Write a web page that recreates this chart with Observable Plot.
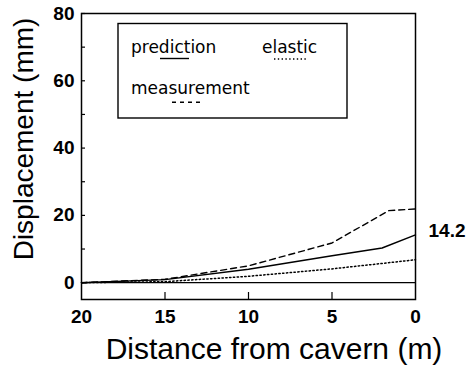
<!DOCTYPE html>
<html><head><meta charset="utf-8">
<script src="https://cdn.jsdelivr.net/npm/d3@7"></script>
<script src="https://cdn.jsdelivr.net/npm/@observablehq/plot@0.6"></script>
<style>body{margin:0;background:#fff}#chart{position:relative;width:474px;height:374px}</style>
</head><body><div id="chart"></div>
<script>
// Data
const predDistance = [20, 15, 10, 5, 2, 0];
const prediction   = [0, 0.9, 4.0, 8.0, 10.3, 14.2];
const measDistance = [20, 15, 10, 5, 1.6, 0];
const measurement  = [0, 1.0, 5.0, 11.8, 21.4, 21.9];
const elasDistance = [20, 15, 10, 5, 0];
const elastic      = [0, 0.3, 1.9, 4.1, 6.8];

const xTickLabels = [20, 15, 10, 5, 0];
const xTicks = [15, 10, 5];
const yTickLabels = [0, 20, 40, 60, 80];
const yTicks = [0, 10, 20, 30, 40, 50, 60, 70, 80];
const legendLabels = ["prediction", "elastic", "measurement"];
const endLabel = "14.2";
const xTitle = "Distance from cavern (m)";
const yTitle = "Displacement (mm)";

const predRows = predDistance.map((d, i) => ({x: d, y: prediction[i]}));
const measRows = measDistance.map((d, i) => ({x: d, y: measurement[i]}));
const elasRows = elasDistance.map((d, i) => ({x: d, y: elastic[i]}));
const endRow = [{x: predDistance[predDistance.length - 1], y: prediction[prediction.length - 1], t: endLabel}];

const sans = "'Liberation Sans', Arial, Helvetica, sans-serif";
const W = 474, H = 374, mL = 81, mR = 59, mT = 13, mB = 75;
const frameW = W - mL - mR, frameH = H - mT - mB;

const svg = Plot.plot({
  width: W,
  height: H,
  marginLeft: mL,
  marginRight: mR,
  marginTop: mT,
  marginBottom: mB,
  style: {fontFamily: sans, background: "#fff", color: "#000", overflow: "visible"},
  x: {domain: [20, 0]},
  y: {domain: [-5, 80]},
  marks: [
    Plot.ruleY([0], {stroke: "#000", strokeWidth: 1.2}),
    Plot.line(elasRows, {x: "x", y: "y", stroke: "#000", strokeWidth: 1.5, strokeDasharray: "1.4,2.4"}),
    Plot.line(measRows, {x: "x", y: "y", stroke: "#000", strokeWidth: 1.4, strokeDasharray: "6,4"}),
    Plot.line(predRows, {x: "x", y: "y", stroke: "#000", strokeWidth: 1.4}),
    Plot.frame({stroke: "#000", strokeWidth: 1.5}),
    // inward ticks
    Plot.tickY(yTicks, {y: d => d, insetRight: frameW - 4, stroke: "#000", strokeWidth: 1.2}),
    Plot.tickX(xTicks, {x: d => d, insetTop: frameH - 7, stroke: "#000", strokeWidth: 1.2}),
    // tick labels
    Plot.axisY({ticks: yTickLabels, tickSize: 0, tickPadding: 7, fontSize: 19, fontWeight: "bold", label: null}),
    Plot.axisX({ticks: xTickLabels, tickSize: 0, tickPadding: 10, fontSize: 19, fontWeight: "bold", label: null}),
    Plot.text(endRow, {x: "x", y: "y", text: "t", textAnchor: "start", lineAnchor: "middle", dx: 13, dy: -4, fontSize: 19, fontWeight: "bold"}),
    Plot.text([yTitle], {frameAnchor: "left", rotate: -90, dx: -57, dy: -17.5, fontSize: 28, textAnchor: "middle", lineAnchor: "middle"}),
    Plot.text([xTitle], {frameAnchor: "bottom", dx: 25.5, dy: 50, fontSize: 30, textAnchor: "middle", lineAnchor: "middle"})
  ]
});
document.getElementById("chart").appendChild(svg);

// Legend box inside the plot area
const root = d3.select(svg);
const lg = root.append("g")
  .attr("font-family", "'DejaVu Sans', sans-serif")
  .attr("font-size", 17)
  .attr("text-anchor", "start")
  .attr("fill", "#000");
lg.append("rect").attr("x", 118).attr("y", 23.5).attr("width", 229).attr("height", 94.5)
  .attr("fill", "#fff").attr("stroke", "#000").attr("stroke-width", 1.4);
const legendItems = [
  {label: legendLabels[0], tx: 131, ty: 53.3, x1: 160, x2: 189, ly: 58.5, dash: null, w: 1.4},
  {label: legendLabels[1], tx: 262, ty: 53.3, x1: 274, x2: 306, ly: 59, dash: "1.4,2.4", w: 1.5},
  {label: legendLabels[2], tx: 131, ty: 94.3, x1: 172, x2: 203, ly: 102.3, dash: "4,4", w: 1.4}
];
for (const it of legendItems) {
  lg.append("text").attr("x", it.tx).attr("y", it.ty).attr("text-anchor", "start").text(it.label);
  const l = lg.append("line").attr("x1", it.x1).attr("x2", it.x2).attr("y1", it.ly).attr("y2", it.ly)
    .attr("stroke", "#000").attr("stroke-width", it.w);
  if (it.dash) l.attr("stroke-dasharray", it.dash);
}
</script>
</body></html>
